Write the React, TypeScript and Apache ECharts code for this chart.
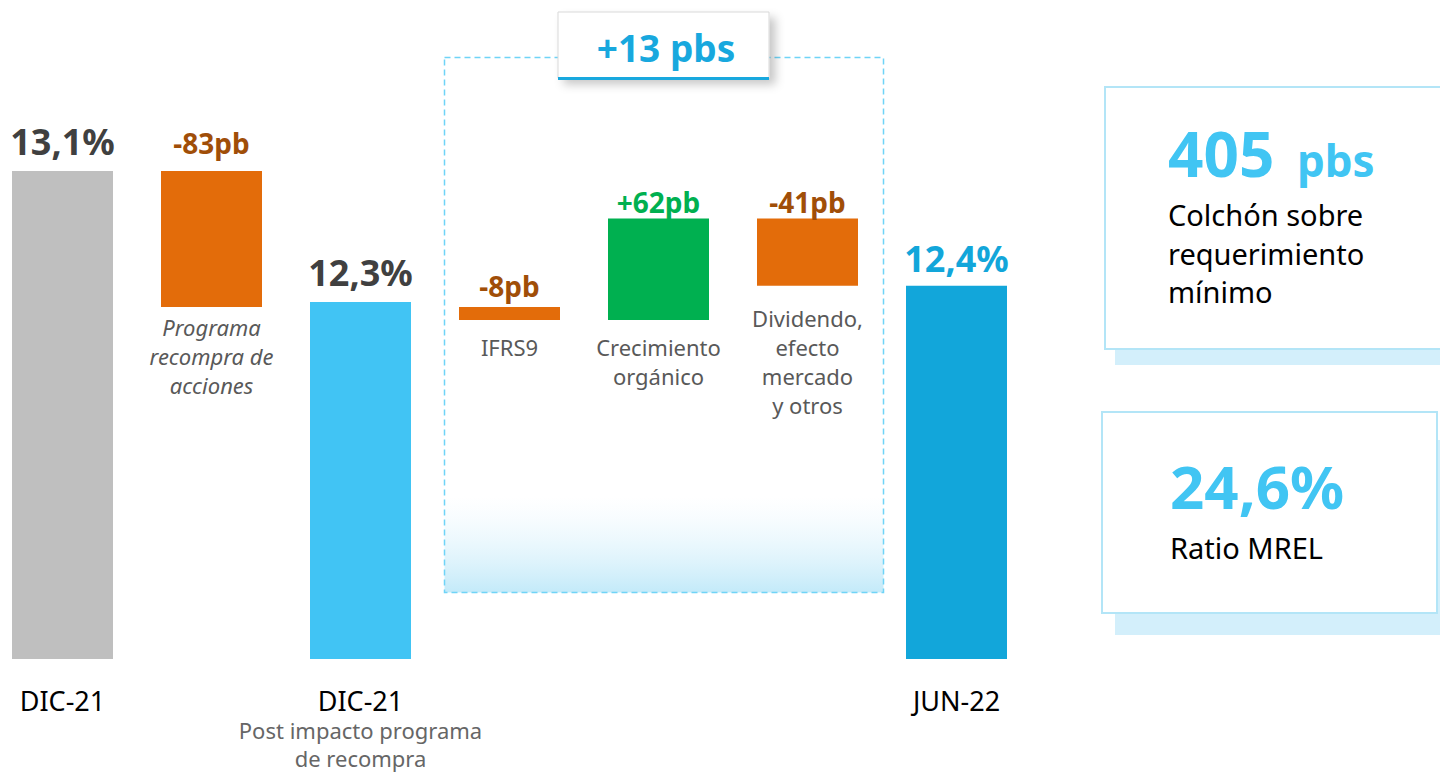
import React, { useEffect, useRef } from 'react';
import * as echarts from 'echarts';

const categories = ['DIC-21', 'Recompra', 'DIC-21 post', 'IFRS9', 'Crecimiento', 'Dividendo', 'JUN-22'];
const axisMain = ['DIC-21', '', 'DIC-21', '', '', '', 'JUN-22'];
const axisSub = ['', '', 'Post impacto programa\nde recompra', '', '', '', ''];
const totals: (number | null)[] = [13.1, null, 12.3, null, null, null, 12.4];
const deltasPb: (number | null)[] = [null, -83, null, -8, 62, -41, null];
const topLabels = ['13,1%', '-83pb', '12,3%', '-8pb', '+62pb', '-41pb', '12,4%'];
const descriptions = ['', 'Programa\nrecompra de\nacciones', '', 'IFRS9', 'Crecimiento\norgánico', 'Dividendo,\nefecto\nmercado\ny otros', ''];
const boxTitle = '+13 pbs';
const kpi1Value = '405';
const kpi1Unit = 'pbs';
const kpi1Text = 'Colchón sobre\nrequerimiento\nmínimo';
const kpi2Value = '24,6%';
const kpi2Text = 'Ratio MREL';

const FONT = '"Noto Sans", "Open Sans", sans-serif';
const OX = 12; // chart canvas is shifted 12px to the left
const barColors = ['#BFBFBF', '#E36C0A', '#41C4F4', '#E36C0A', '#00B050', '#E36C0A', '#12A6DA'];
const labelColors = ['#404040', '#A04E08', '#404040', '#A04E08', '#00B050', '#A04E08', '#12A6DA'];
const topGap = [12, 14, 12, 7, 2, 2, 9];
const descGap = [0, 6, 0, 12, 12, 18, 0];

export default function App() {
  const ref = useRef<HTMLDivElement>(null);
  useEffect(() => {
    const chart = echarts.init(ref.current!, null, { renderer: 'svg' });
    let running = totals[0] as number;
    const baseData: any[] = [];
    const valueData: any[] = [];
    categories.forEach((_, i) => {
      const t = totals[i];
      const d = deltasPb[i];
      const isTotal = t != null;
      let base: any = '-';
      let h: number;
      if (isTotal) {
        h = t as number;
      } else {
        const prev = running;
        running = running + (d as number) / 100;
        base = Math.min(prev, running);
        h = Math.abs(d as number) / 100;
      }
      baseData.push({
        value: base,
        label: descriptions[i]
          ? {
              show: true,
              position: 'insideTop',
              distance: descGap[i],
              formatter: descriptions[i],
              color: '#595959',
              fontSize: 22,
              lineHeight: 29,
              fontStyle: i === 1 ? 'italic' : 'normal',
              fontFamily: FONT,
            }
          : { show: false },
      });
      valueData.push({
        value: h,
        itemStyle: { color: barColors[i] },
        label: {
          show: true,
          position: 'top',
          distance: topGap[i],
          formatter: topLabels[i],
          color: labelColors[i],
          fontSize: isTotal ? 36 : 28,
          fontWeight: 'bold',
          fontFamily: FONT,
        },
      });
    });

    const option: any = {
      animation: false,
      backgroundColor: '#ffffff',
      grid: { left: 0, width: 1043, top: 105.5, bottom: 116, containLabel: false },
      xAxis: {
        type: 'category',
        data: categories,
        axisLine: { show: false },
        axisTick: { show: false },
        axisLabel: {
          interval: 0,
          margin: 25,
          formatter: (_v: string, i: number) => {
            if (!axisMain[i]) return '';
            let s = '{m|' + axisMain[i] + '}';
            if (axisSub[i]) s += '\n' + axisSub[i].split('\n').map((l) => '{s|' + l + '}').join('\n');
            return s;
          },
          rich: {
            m: { fontSize: 27, color: '#000000', lineHeight: 32, fontFamily: FONT },
            s: { fontSize: 22, color: '#666666', lineHeight: 28, fontFamily: FONT },
          },
        },
      },
      yAxis: { type: 'value', min: 10.12, max: 13.5, show: false, splitLine: { show: false } },
      series: [
        {
          type: 'bar',
          stack: 'w',
          barWidth: 101,
          itemStyle: { color: 'rgba(0,0,0,0)' },
          data: baseData,
          silent: true,
        },
        {
          type: 'bar',
          stack: 'w',
          barWidth: 101,
          data: valueData,
        },
      ],
      graphic: [
        {
          type: 'rect',
          z: 0,
          shape: { x: 444.5 + OX, y: 57.5, width: 439, height: 535 },
          style: {
            fill: new echarts.graphic.LinearGradient(0, 0, 0, 1, [
              { offset: 0, color: 'rgba(255,255,255,0)' },
              { offset: 0.82, color: 'rgba(230,246,253,0)' },
              { offset: 1, color: '#C3EAF9' },
            ]),
            stroke: '#6FD4F7',
            lineWidth: 1.5,
            lineDash: [6, 4],
          },
        },
        {
          type: 'rect',
          z: 5,
          shape: { x: 558 + OX, y: 12, width: 211, height: 66 },
          style: {
            fill: '#ffffff',
            stroke: '#D9D9D9',
            lineWidth: 1,
            shadowBlur: 10,
            shadowOffsetX: 6,
            shadowOffsetY: 6,
            shadowColor: 'rgba(0,0,0,0.22)',
          },
        },
        {
          type: 'rect',
          z: 6,
          shape: { x: 558 + OX, y: 77, width: 211, height: 3 },
          style: { fill: '#18A8DE' },
        },
        {
          type: 'text',
          z: 7,
          x: 666 + OX,
          y: 47,
          style: {
            text: boxTitle,
            fill: '#18A8DE',
            fontSize: 37,
            fontWeight: 'bold',
            fontFamily: FONT,
            align: 'center',
            verticalAlign: 'middle',
          },
        },
        // KPI box 1
        { type: 'rect', z: 0, shape: { x: 1115 + OX, y: 100, width: 330, height: 265 }, style: { fill: '#D3EFFB' } },
        {
          type: 'rect',
          z: 1,
          shape: { x: 1105 + OX, y: 87, width: 345, height: 262 },
          style: { fill: '#ffffff', stroke: '#B3E5F7', lineWidth: 2 },
        },
        {
          type: 'text',
          z: 2,
          x: 1168 + OX,
          y: 153,
          style: { text: kpi1Value, fill: '#41C5F3', fontSize: 62, fontWeight: 'bold', fontFamily: FONT, verticalAlign: 'middle' },
        },
        {
          type: 'text',
          z: 2,
          x: 1297 + OX,
          y: 160,
          style: { text: kpi1Unit, fill: '#41C5F3', fontSize: 44, fontWeight: 'bold', fontFamily: FONT, verticalAlign: 'middle' },
        },
        {
          type: 'text',
          z: 2,
          x: 1168 + OX,
          y: 253,
          style: { text: kpi1Text, fill: '#000000', fontSize: 29, lineHeight: 38.5, fontFamily: FONT, verticalAlign: 'middle' },
        },
        // KPI box 2
        { type: 'rect', z: 0, shape: { x: 1115 + OX, y: 440, width: 330, height: 195 }, style: { fill: '#D3EFFB' } },
        {
          type: 'rect',
          z: 1,
          shape: { x: 1102 + OX, y: 412, width: 335, height: 201 },
          style: { fill: '#ffffff', stroke: '#B3E5F7', lineWidth: 2 },
        },
        {
          type: 'text',
          z: 2,
          x: 1170 + OX,
          y: 486,
          style: { text: kpi2Value, fill: '#41C5F3', fontSize: 60, fontWeight: 'bold', fontFamily: FONT, verticalAlign: 'middle' },
        },
        {
          type: 'text',
          z: 2,
          x: 1170 + OX,
          y: 547,
          style: { text: kpi2Text, fill: '#000000', fontSize: 29, fontFamily: FONT, verticalAlign: 'middle' },
        },
      ],
    };
    chart.setOption(option);
    return () => chart.dispose();
  }, []);
  return <div ref={ref} style={{ position: 'absolute', left: -OX, top: 0, width: 1440 + OX, height: 775 }} />;
}
